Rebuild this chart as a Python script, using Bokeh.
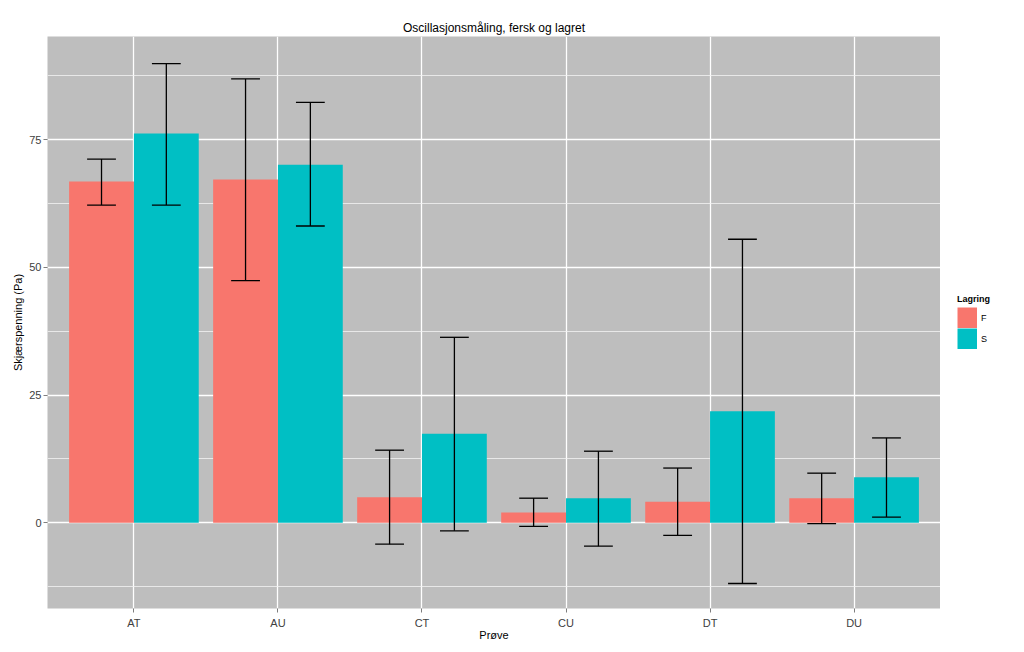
from bokeh.plotting import figure
from bokeh.layouts import row
from bokeh.models import Range1d, FixedTicker, Legend, LegendItem
from bokeh.embed import file_html
from bokeh.resources import INLINE

# ---- data ----
categories = ["AT", "AU", "CT", "CU", "DT", "DU"]
groups = ["F", "S"]
f_mean = [66.8, 67.2, 5.0, 2.0, 4.1, 4.8]
f_upper = [71.2, 86.9, 14.2, 4.8, 10.7, 9.7]
f_lower = [62.2, 47.4, -4.2, -0.7, -2.5, -0.2]
s_mean = [76.2, 70.1, 17.4, 4.8, 21.8, 8.9]
s_upper = [89.9, 82.3, 36.3, 14.0, 55.5, 16.6]
s_lower = [62.2, 58.1, -1.6, -4.6, -11.9, 1.1]
y_major = [0, 25, 50, 75]
y_minor = [-12.5, 12.5, 37.5, 62.5, 87.5]
colors = ["#F8766D", "#00BFC4"]

FONT = "Liberation Sans"
BG = "#BEBEBE"

p = figure(
    output_backend="svg", toolbar_location=None,
    frame_width=893, frame_height=572,
    x_range=Range1d(0.4, 6.6), y_range=Range1d(-16.8, 95.2),
    min_border_left=47, min_border_top=36, min_border_bottom=38, min_border_right=0,
    title="Oscillasjonsmåling, fersk og lagret",
)
p.background_fill_color = BG
p.border_fill_color = "white"
p.outline_line_color = None

p.title.align = "center"
p.title.text_font = FONT
p.title.text_font_size = "12px"
p.title.text_font_style = "normal"
p.title.text_color = "black"
p.title.standoff = 3

idx = list(range(1, len(categories) + 1))
dodge = 0.225
bar_w = 0.45
cap = 0.1

for g, means, col, off in [
    ("F", f_mean, colors[0], -dodge),
    ("S", s_mean, colors[1], dodge),
]:
    xs = [i + off for i in idx]
    p.vbar(x=xs, top=means, bottom=0, width=bar_w, fill_color=col, line_color=None)

for lo, hi, off in [
    (f_lower, f_upper, -dodge),
    (s_lower, s_upper, dodge),
]:
    xs = [i + off for i in idx]
    p.segment(x0=xs, x1=xs, y0=lo, y1=hi, line_color="black", line_width=1.3)
    p.segment(x0=[x - cap for x in xs], x1=[x + cap for x in xs], y0=hi, y1=hi,
              line_color="black", line_width=1.3)
    p.segment(x0=[x - cap for x in xs], x1=[x + cap for x in xs], y0=lo, y1=lo,
              line_color="black", line_width=1.3)

# grids
p.xgrid.ticker = FixedTicker(ticks=idx)
p.xgrid.grid_line_color = "white"
p.xgrid.grid_line_width = 1.3
p.ygrid.ticker = FixedTicker(ticks=y_major, minor_ticks=y_minor)
p.ygrid.grid_line_color = "white"
p.ygrid.grid_line_width = 1.3
p.ygrid.minor_grid_line_color = "#F2F2F2"
p.ygrid.minor_grid_line_width = 0.8
for r in [p.xgrid, p.ygrid]:
    r.level = "underlay"

# axes
p.xaxis.ticker = FixedTicker(ticks=idx)
p.xaxis.major_label_overrides = {i: c for i, c in zip(idx, categories)}
p.yaxis.ticker = FixedTicker(ticks=y_major)
for ax in [p.xaxis[0], p.yaxis[0]]:
    ax.axis_line_color = None
    ax.major_tick_line_color = "#7F7F7F"
    ax.major_tick_out = 4
    ax.major_tick_in = 0
    ax.minor_tick_line_color = None
    ax.major_label_text_font = FONT
    ax.major_label_text_font_size = "11px"
    ax.major_label_text_color = "#404040"
    ax.axis_label_text_font = FONT
    ax.axis_label_text_font_size = "11px"
    ax.axis_label_text_font_style = "normal"
    ax.axis_label_text_color = "black"
    ax.major_label_standoff = 2
    ax.axis_label_standoff = 2
p.xaxis.major_label_standoff = 4
p.xaxis.axis_label_standoff = -3
p.xaxis.axis_label = "Prøve"
p.yaxis.axis_label = "Skjærspenning (Pa)"

# ---- legend panel (separate small figure beside the chart) ----
lg = figure(
    output_backend="svg", toolbar_location=None,
    width=84, height=646, min_border=0,
    x_range=Range1d(0, 1), y_range=Range1d(0, 1),
)
lg.axis.visible = False
lg.grid.visible = False
lg.outline_line_color = None
lg.background_fill_color = "white"
lg.border_fill_color = "white"
# legend-key glyphs only (thick lines give full, gapless colour keys;
# their own data lies outside the visible range of this panel)
dummies = [lg.line(x=[-5, -4], y=[-5, -5], line_width=21, line_cap="butt", line_color=c)
           for c in colors]

legend = Legend(
    items=[LegendItem(label=g, renderers=[r]) for g, r in zip(groups, dummies)],
    title="Lagring", location=(17, 259),
)
legend.border_line_color = None
legend.background_fill_alpha = 0
legend.glyph_width = 20
legend.glyph_height = 21
legend.spacing = 0
legend.padding = 0
legend.margin = 0
legend.label_standoff = 4
legend.label_text_font = FONT
legend.label_text_font_size = "9px"
legend.label_text_color = "black"
legend.title_text_font = FONT
legend.title_text_font_size = "9px"
legend.title_text_font_style = "bold"
legend.title_text_color = "black"
legend.title_standoff = 3
lg.add_layout(legend, "center")

layout = row(p, lg, spacing=0)
open("out.html", "w").write(file_html(layout, INLINE))
